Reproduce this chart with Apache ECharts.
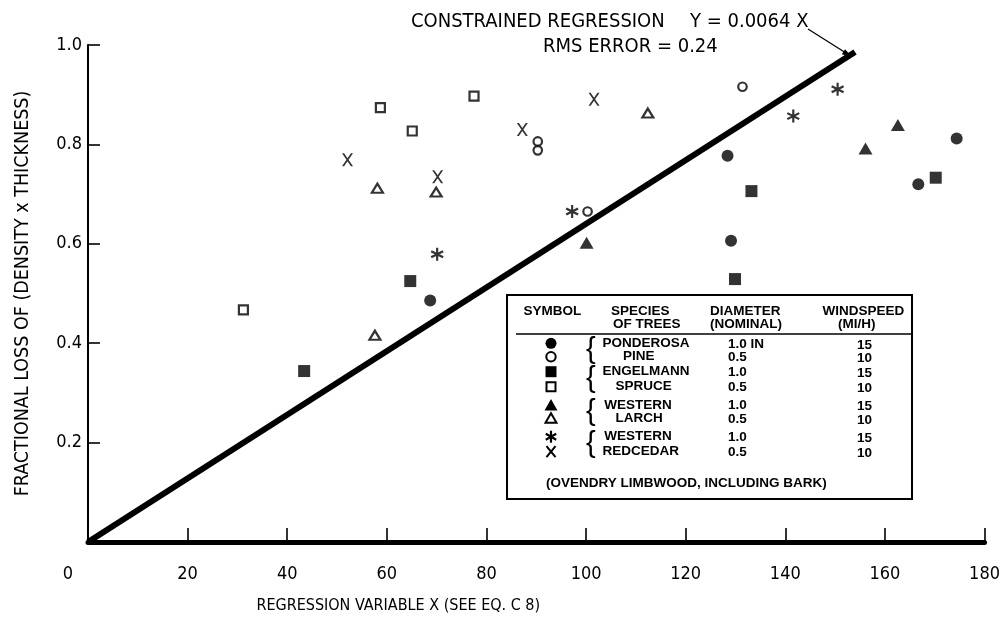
<!DOCTYPE html>
<html>
<head>
<meta charset="utf-8">
<script src="https://cdn.jsdelivr.net/npm/echarts@6/dist/echarts.min.js"></script>
<style>
html,body{margin:0;padding:0;background:#fff;}
#c{width:1003px;height:628px;}
</style>
</head>
<body>
<div id="c"></div>
<script>
// ---- data ----
const xTicks = [0, 20, 40, 60, 80, 100, 120, 140, 160, 180];
const yTicks = [0.2, 0.4, 0.6, 0.8, 1.0];

const ponderosa10 = [[68.7,0.486],[128.4,0.777],[129.1,0.606],[166.7,0.720],[174.4,0.812]];
const ponderosa05 = [[131.4,0.916],[90.3,0.806],[90.3,0.788],[100.3,0.665]];
const engelmann10 = [[43.4,0.344],[64.7,0.525],[129.9,0.529],[133.2,0.706],[170.2,0.733]];
const engelmann05 = [[31.2,0.467],[58.7,0.874],[65.1,0.827],[77.5,0.897]];
const larch10 = [[100.1,0.602],[156.1,0.792],[162.6,0.839]];
const larch05 = [[57.6,0.416],[58.1,0.712],[69.9,0.704],[112.4,0.863]];
const redcedar10 = [[70.1,0.579],[97.2,0.665],[141.6,0.857],[150.5,0.911]];
const redcedar05 = [[52.1,0.769],[70.2,0.735],[87.2,0.830],[101.6,0.891]];

const regressionLine = [[0, 0], [154, 0.986]];

const titleLine1 = 'CONSTRAINED REGRESSION';
const equationText = 'Y = 0.0064 X';
const rmsText = 'RMS ERROR = 0.24';
const xName = 'REGRESSION VARIABLE X (SEE EQ. C 8)';
const yName = 'FRACTIONAL LOSS OF (DENSITY x THICKNESS)';

const legendHeader1 = ['SYMBOL', 'SPECIES', 'DIAMETER', 'WINDSPEED'];
const legendHeader2 = ['OF TREES', '(NOMINAL)', '(MI/H)'];
const legendSpecies = ['PONDEROSA', 'PINE', 'ENGELMANN', 'SPRUCE', 'WESTERN', 'LARCH', 'WESTERN', 'REDCEDAR'];
const legendDiameter = ['1.0 IN', '0.5', '1.0', '0.5', '1.0', '0.5', '1.0', '0.5'];
const legendWind = ['15', '10', '15', '10', '15', '10', '15', '10'];
const legendNote = '(OVENDRY LIMBWOOD, INCLUDING BARK)';

// ---- styling ----
const NARROW = '"Liberation Sans Narrow", "DejaVu Sans Condensed", "Liberation Sans", sans-serif';
const BOLD = '"Liberation Sans", Arial, sans-serif';

const ASTER = 'path://M42 0L58 0L58 100L42 100Z M2 33.9L10 20L98 66.1L90 80Z M10 80L2 66.1L90 20L98 33.9Z';
const XMARK = 'path://M0 0L19 0L100 100L81 100Z M81 0L100 0L19 100L0 100Z';

function sc(name, data, symbol, size, filled) {
  return {
    type: 'scatter', name: name, data: data, symbol: symbol, symbolSize: size,
    itemStyle: filled ? { color: '#000' } : { color: '#fff', borderColor: '#000', borderWidth: 2.2 },
    z: 5, silent: true
  };
}

const series = [
  { type: 'line', name: 'regression', data: regressionLine, showSymbol: false, symbol: 'none',
    lineStyle: { color: '#000', width: 6, cap: 'butt' }, z: 3, silent: true },
  sc('Ponderosa 1.0', ponderosa10, 'circle', 12, true),
  sc('Ponderosa 0.5', ponderosa05, 'circle', 8.5, false),
  sc('Engelmann 1.0', engelmann10, 'rect', 12, true),
  sc('Engelmann 0.5', engelmann05, 'rect', 9, false),
  sc('Larch 1.0', larch10, 'triangle', [14, 12], true),
  sc('Larch 0.5', larch05, 'triangle', [11, 9], false),
  sc('Redcedar 1.0', redcedar10, ASTER, [13, 13], true),
  sc('Redcedar 0.5', redcedar05, XMARK, [11, 13], true)
];

// ---- legend box drawn with graphic elements ----
const g = [];
function txt(t, x, y, font, extra) {
  g.push(Object.assign({ type: 'text', x: x, y: y, z: 20,
    style: Object.assign({ text: t, font: font, fill: '#000', align: 'left', verticalAlign: 'middle',
      textAlign: 'left', textVerticalAlign: 'middle' }, extra || {}) }));
}
const LB = 'bold 13.5px ' + BOLD;
g.push({ type: 'rect', z: 19, shape: { x: 507, y: 295, width: 405, height: 204 },
  style: { fill: '#fff', stroke: '#000', lineWidth: 2 } });
txt(legendHeader1[0], 523.5, 311, LB);
txt(legendHeader1[1], 611, 311, LB);
txt(legendHeader1[2], 710, 311, LB);
txt(legendHeader1[3], 822.6, 311, LB);
txt(legendHeader2[0], 613, 324, LB);
txt(legendHeader2[1], 710, 324, LB);
txt(legendHeader2[2], 838, 324, LB);
g.push({ type: 'line', z: 20, shape: { x1: 516, y1: 334, x2: 912, y2: 334 }, style: { stroke: '#000', lineWidth: 1.5 } });

const rowY = [343.3, 356.7, 371.7, 386.7, 405, 418.3, 436.7, 451.7];
const speciesX = [602.6, 623, 602.6, 615.6, 604.3, 615.6, 604.3, 602.6];
for (let i = 0; i < 8; i++) {
  txt(legendSpecies[i], speciesX[i], rowY[i], LB);
  txt(legendDiameter[i], 728, rowY[i] + 0.5, LB);
  txt(legendWind[i], 857, rowY[i] + 1.5, LB);
}
// braces
for (let k = 0; k < 4; k++) {
  const yc = (rowY[2 * k] + rowY[2 * k + 1]) / 2;
  txt('{', 586, yc, '29px "Liberation Sans", sans-serif');
}
// legend symbols
const SX = 551;
g.push({ type: 'circle', z: 20, shape: { cx: SX, cy: rowY[0], r: 5.5 }, style: { fill: '#000' } });
g.push({ type: 'circle', z: 20, shape: { cx: SX, cy: rowY[1], r: 4.7 }, style: { fill: '#fff', stroke: '#000', lineWidth: 2 } });
g.push({ type: 'rect', z: 20, shape: { x: SX - 5.5, y: rowY[2] - 5.5, width: 11, height: 11 }, style: { fill: '#000' } });
g.push({ type: 'rect', z: 20, shape: { x: SX - 4.5, y: rowY[3] - 4.5, width: 9, height: 9 }, style: { fill: '#fff', stroke: '#000', lineWidth: 2 } });
g.push({ type: 'polygon', z: 20, shape: { points: [[SX - 6.5, rowY[4] + 5.5], [SX + 6.5, rowY[4] + 5.5], [SX, rowY[4] - 6]] }, style: { fill: '#000' } });
g.push({ type: 'polygon', z: 20, shape: { points: [[SX - 5.5, rowY[5] + 4.5], [SX + 5.5, rowY[5] + 4.5], [SX, rowY[5] - 5]] }, style: { fill: '#fff', stroke: '#000', lineWidth: 2 } });
[[0, -6, 0, 6], [-5.2, -3, 5.2, 3], [-5.2, 3, 5.2, -3]].forEach(function (s) {
  g.push({ type: 'line', z: 20, shape: { x1: SX + s[0], y1: rowY[6] + s[1], x2: SX + s[2], y2: rowY[6] + s[3] }, style: { stroke: '#000', lineWidth: 2.2 } });
});
[[-4.5, -5.5, 4.5, 5.5], [4.5, -5.5, -4.5, 5.5]].forEach(function (s) {
  g.push({ type: 'line', z: 20, shape: { x1: SX + s[0], y1: rowY[7] + s[1], x2: SX + s[2], y2: rowY[7] + s[3] }, style: { stroke: '#000', lineWidth: 2 } });
});
txt(legendNote, 546, 483, LB);

// title annotation
const TF = '20px ' + NARROW;
txt(titleLine1, 411, 22, TF);
txt(equationText, 690, 22, TF);
txt(rmsText, 543, 47, TF);
g.push({ type: 'line', z: 20, shape: { x1: 808, y1: 29, x2: 846, y2: 53 }, style: { stroke: '#000', lineWidth: 1.3 } });
g.push({ type: 'polygon', z: 20, shape: { points: [[852, 57], [841.9, 54.3], [845.1, 49.2]] }, style: { fill: '#000' } });

const option = {
  backgroundColor: '#fff',
  animation: false,
  grid: { left: 88, right: 15, top: 45, bottom: 86, containLabel: false },
  xAxis: {
    type: 'value', min: xTicks[0], max: xTicks[xTicks.length - 1], interval: 20,
    name: xName, nameLocation: 'middle', nameGap: 56,
    nameTextStyle: { fontFamily: NARROW, fontSize: 16, color: '#000', padding: [0, 276, 0, 0] },
    axisLine: { lineStyle: { color: '#000', width: 5 } },
    axisTick: { inside: true, length: 14, lineStyle: { color: '#000', width: 1.6 } },
    axisLabel: { margin: 23, fontFamily: NARROW, fontSize: 18, color: '#000',
      formatter: function (v) { return v === 0 ? '{z|0}' : String(v); },
      rich: { z: { fontFamily: NARROW, fontSize: 18, color: '#000', padding: [0, 40, 0, 0] } } },
    splitLine: { show: false }
  },
  yAxis: {
    type: 'value', min: 0, max: yTicks[yTicks.length - 1], interval: 0.2,
    name: yName, nameLocation: 'middle', nameGap: 55, nameRotate: 90,
    nameTextStyle: { fontFamily: NARROW, fontSize: 19.5, color: '#000' },
    axisLine: { lineStyle: { color: '#000', width: 2 } },
    axisTick: { inside: true, length: 12, lineStyle: { color: '#000', width: 1.6 } },
    axisLabel: { margin: 6, fontFamily: NARROW, fontSize: 18, color: '#000',
      formatter: function (v) { return v === 0 ? '' : v.toFixed(1); } },
    splitLine: { show: false }
  },
  graphic: g,
  series: series
};

const chart = echarts.init(document.getElementById('c'), null, { renderer: 'canvas' });
chart.setOption(option);
</script>
</body>
</html>
